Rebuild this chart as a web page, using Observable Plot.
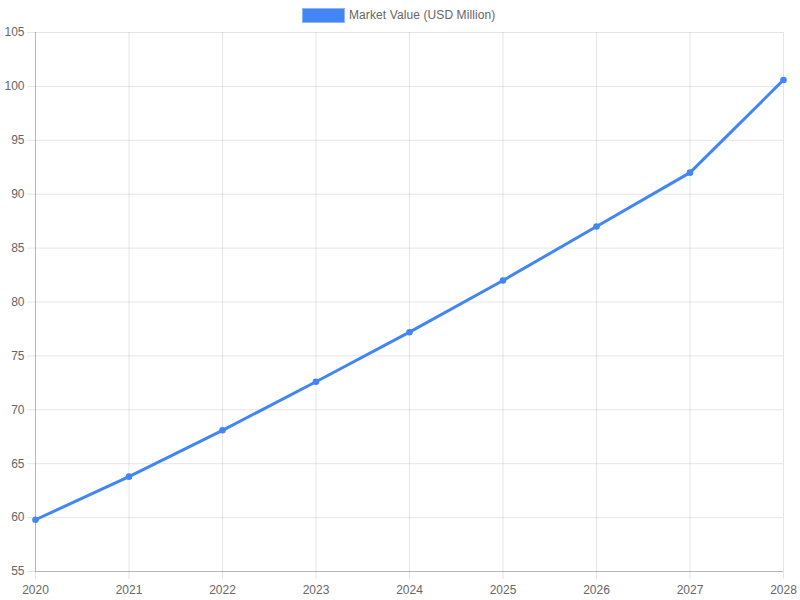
<!DOCTYPE html>
<html>
<head>
<meta charset="utf-8">
<script src="https://cdn.jsdelivr.net/npm/d3@7"></script>
<script src="https://cdn.jsdelivr.net/npm/@observablehq/plot@0.6"></script>
<style>
  html, body { margin: 0; padding: 0; background: #fff; }
  body { width: 800px; height: 600px; overflow: hidden; font-family: "Liberation Sans", Arial, sans-serif; }
  #legend { height: 24px; position: relative; }
  #legend .box { position: absolute; left: 302px; top: 8px; width: 41px; height: 13px; background: #4285F4; border: 1px solid #8fb6f8; }
  #legend .lbl { position: absolute; left: 349px; top: 8px; font-size: 12px; color: #666; line-height: 15px; letter-spacing: 0.1px; }
  svg { display: block; }
</style>
</head>
<body>
<div id="legend"><div class="box"></div><div class="lbl">Market Value (USD Million)</div></div>
<div id="chart"></div>
<script>
const years = [2020, 2021, 2022, 2023, 2024, 2025, 2026, 2027, 2028];
const marketValue = [59.8, 63.8, 68.1, 72.6, 77.2, 82.0, 87.0, 92.0, 100.6];
const yTicks = [55, 60, 65, 70, 75, 80, 85, 90, 95, 100, 105];
const seriesName = "Market Value (USD Million)";

const data = years.map((y, i) => ({year: y, value: marketValue[i]}));
const lineColor = "#4285F4";

const chart = Plot.plot({
  width: 800,
  height: 576,
  marginTop: 8,
  marginBottom: 29,
  marginLeft: 35,
  marginRight: 17,
  style: {fontFamily: "'Liberation Sans', Arial, sans-serif", fontSize: "12px", color: "#666", background: "#fff"},
  x: {domain: [2020, 2028], ticks: years, tickFormat: "d", label: null},
  y: {domain: [55, 105], ticks: yTicks, label: null},
  marks: [
    Plot.gridY(yTicks, {stroke: "#000", strokeOpacity: 0.1}),
    Plot.gridX(years, {stroke: "#000", strokeOpacity: 0.1}),
    Plot.axisX(years, {tickSize: 8, tickPadding: 6, stroke: "#000", strokeOpacity: 0.1, fill: "#666", tickFormat: "d", fontSize: 12}),
    Plot.axisY(yTicks, {tickSize: 8, tickPadding: 3, stroke: "#000", strokeOpacity: 0.1, fill: "#666", fontSize: 12}),
    Plot.ruleX([2020], {stroke: "#000", strokeOpacity: 0.2}),
    Plot.ruleY([55], {stroke: "#000", strokeOpacity: 0.2}),
    Plot.line(data, {x: "year", y: "value", stroke: lineColor, strokeWidth: 3, curve: "linear"}),
    Plot.dot(data, {x: "year", y: "value", r: 3.3, fill: lineColor, stroke: "none", title: d => `${seriesName}: ${d.value}`})
  ]
});
document.getElementById("chart").appendChild(chart);
</script>
</body>
</html>
